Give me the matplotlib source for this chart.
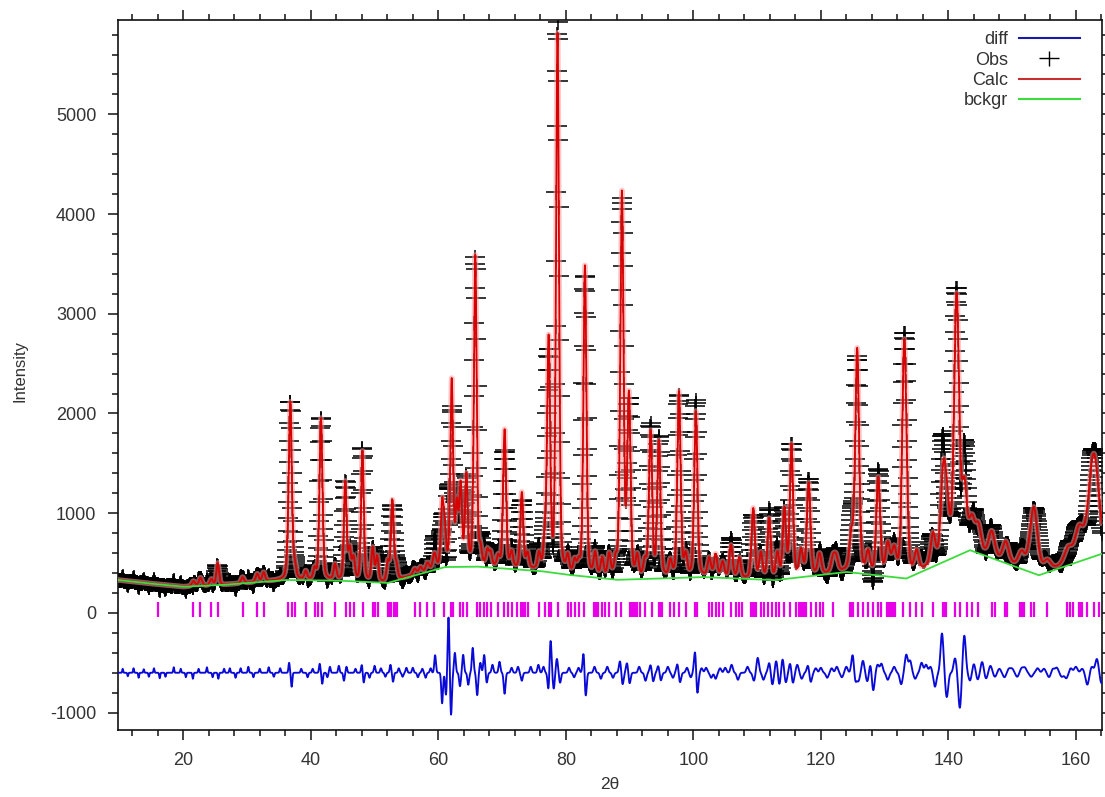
import numpy as np
import matplotlib
matplotlib.use("Agg")
import matplotlib.pyplot as plt
from matplotlib.path import Path
from matplotlib.ticker import MultipleLocator
from matplotlib.lines import Line2D

plt.rcParams['font.family'] = ['Liberation Sans', 'DejaVu Sans']
plt.rcParams['axes.unicode_minus'] = False

# ---------------- data ----------------
scan_start, scan_stop, scan_step = 9.8, 164.2, 0.05

# background knots (2theta, counts)
bkg_2theta = [9.8, 14.0, 20.0, 26.0, 36.0, 44.0, 52.0, 56.0, 61.0, 66.0, 76.0, 80.0,
              88.0, 95.0, 101.4, 112.7, 124.0, 133.4, 143.4, 154.2, 164.4]
bkg_counts = [330, 300, 262, 280, 330, 325, 300, 370, 460, 465, 420, 385,
              332, 345, 360, 328, 411, 345, 629, 378, 600]

# Bragg peaks of the calculated pattern: position, height above background, FWHM
peak_pos = [21.6, 22.7, 24.4, 25.4, 29.3, 31.6, 32.6,
            36.4, 36.8, 37.5, 39.2, 40.6, 41.6, 43.8,
            45.4, 46.1, 46.7, 48.1, 49.7, 50.4, 52.1, 52.8, 53.4,
            56.3, 57.2, 58.3, 59.4,
            60.6, 61.0, 62.1, 62.9, 63.5, 64.4,
            65.8, 66.6, 67.7, 68.2, 69.4,
            70.4, 71.5, 73.1, 74.0, 75.8, 76.7,
            77.3, 78.7, 80.3, 81.4, 82.0,
            83.0, 84.6, 85.7, 86.8, 87.8,
            88.8, 89.9, 91.2, 92.4, 93.3, 94.6,
            96.4, 97.75, 98.8, 100.4,
            102.5, 103.5, 104.6, 105.9, 107.2,
            109.4, 110.6, 111.9, 113.2, 114.3, 115.4,
            116.9, 118.1, 119.8, 121.9, 122.4,
            124.8, 125.7, 127.4, 129.0, 130.5, 131.5,
            133.1, 135.0, 137.6, 139.2, 139.8, 141.3,
            142.5, 143.7, 144.7, 146.8, 149.0, 151.5,
            153.4, 155.5, 158.8, 160.5, 162.8]
peak_height = [50, 80, 60, 220, 60, 80, 90,
               150, 1750, 120, 80, 100, 1620, 150,
               980, 300, 220, 1300, 330, 250, 200, 800, 150,
               60, 60, 80, 150,
               600, 350, 1850, 580, 780, 880,
               3100, 150, 150, 130, 100,
               1380, 150, 760, 150, 150, 250,
               2300, 5380, 150, 120, 100,
               3100, 220, 180, 220, 150,
               3850, 1800, 200, 150, 1450, 1350,
               150, 1850, 200, 1650,
               180, 220, 150, 320, 200,
               700, 250, 600, 250, 680, 1320,
               250, 920, 200, 140, 140,
               340, 2230, 200, 960, 300, 250,
               2380, 200, 300, 820, 450, 2580,
               620, 280, 250, 250, 200, 150,
               650, 100, 150, 300, 1020]
peak_fwhm = [0.6, 0.6, 0.55, 0.5, 0.55, 0.55, 0.55,
             0.5, 0.55, 0.5, 0.5, 0.5, 0.55, 0.5,
             0.5, 0.5, 0.5, 0.5, 0.5, 0.5, 0.5, 0.5, 0.5,
             0.6, 0.6, 0.6, 0.6,
             0.5, 0.5, 0.5, 0.5, 0.5, 0.5,
             0.5, 0.5, 0.5, 0.5, 0.5,
             0.55, 0.5, 0.55, 0.5, 0.5, 0.5,
             0.55, 0.55, 0.5, 0.5, 0.5,
             0.55, 0.55, 0.55, 0.55, 0.55,
             0.6, 0.6, 0.55, 0.55, 0.6, 0.6,
             0.55, 0.6, 0.55, 0.6,
             0.6, 0.6, 0.6, 0.6, 0.6,
             0.6, 0.6, 0.6, 0.6, 0.6, 0.6,
             0.65, 0.65, 0.65, 0.7, 0.7,
             0.7, 0.7, 0.7, 0.7, 0.8, 0.8,
             0.8, 0.8, 0.85, 0.9, 0.9, 0.9,
             0.9, 1.0, 1.0, 1.1, 1.1, 1.2,
             1.4, 1.3, 1.4, 1.5, 1.9]

# misfit features (Obs - Calc): position, signed size
resid_pos = [10.5, 11.3, 12.2, 13.0, 13.8, 14.6, 15.4, 16.3, 17.2, 18.5, 19.6, 20.4,
             21.5, 22.4, 23.7, 24.6, 25.5, 26.4, 27.3, 28.2, 29.0, 30.2, 31.0, 32.0,
             33.4, 34.2, 35.2,
             36.6, 37.0, 38.5, 39.5, 40.3, 41.4, 41.8, 42.6, 43.0, 44.4, 45.2, 45.6,
             47.0, 48.0, 48.3, 49.2, 50.0, 51.0, 51.7,
             52.5, 52.9, 53.8, 54.4, 55.0, 56.0, 56.8, 57.5, 58.0, 58.8,
             59.5, 60.6, 61.2, 61.6, 62.0, 62.6, 63.4,
             63.9, 64.7, 65.4, 66.1, 66.6, 67.2, 67.6, 68.5, 69.6, 70.4, 71.5,
             72.5, 73.1, 74.5, 75.7, 76.5, 77.3, 77.6, 78.1, 78.6, 79.1, 80.5,
             81.3, 82.0, 82.8, 83.1, 84.5, 85.5, 86.5, 87.4, 88.5, 88.9, 89.6, 90.0, 91.5,
             92.5, 93.3, 93.7, 94.5, 94.9, 96.0, 96.8, 97.5, 97.9, 99.0, 99.6, 100.3, 100.6,
             101.3, 102.0, 102.8, 103.5, 104.2, 105.0, 106.0, 107.0, 108.5, 109.5, 110.1, 111.0,
             111.9, 112.4, 113.0, 113.5, 114.0, 114.5, 115.2, 115.6, 116.3,
             117.0, 118.0, 118.4, 119.2, 120.0, 121.0, 121.7, 122.5, 123.3, 124.0, 125.0, 125.4,
             125.9, 126.6, 127.3, 127.8, 128.2, 128.9, 129.5, 130.5, 131.5,
             132.6, 133.4, 134.0, 134.8, 135.8, 136.5, 137.2, 137.9, 139.0,
             139.75, 141.05, 141.8, 142.5, 143.4, 144.0, 144.6, 145.3, 145.9,
             146.6, 147.3, 148.0, 148.8, 149.5, 150.0, 150.8, 151.5, 152.0, 153.0, 154.0,
             155.0, 155.8, 156.4, 157.0, 157.8, 158.5, 159.2, 160.0, 161.0,
             161.8, 162.5, 163.3, 164.0]
resid_amp = [40, -35, 45, -50, 35, -40, 45, -55, -40, 55, 40, -45,
             -60, 40, 55, -45, -60, 40, 45, -50, 45, 60, -45, 40,
             55, -40, 45,
             100, -140, 40, -45, 40, 90, -110, -45, 60, 70, -80, 60,
             40, 80, -100, -50, 70, 45, -40,
             80, -90, 45, -40, 50, 50, -45, 40, -50, 45,
             176, -306, -225, 560, -426, 200, -135,
             180, -120, 250, -225, 100, 180, -100, 80, 110, -210, 50,
             60, -80, 60, 80, 60, -190, 345, -160, 140, -100, 50,
             -45, 50, 220, -258, 60, -60, 60, -50, 120, -120, 100, -110, 60,
             -80, 80, -90, 70, -80, 60, -50, 90, -100, 50, -45, 250, -246,
             45, 50, -50, -60, 45, 50, 80, -70, 60, -80, 150, -70,
             100, -120, 120, -120, 140, -100, 100, -110, 80,
             -60, 80, -100, 45, 50, -50, 45, 60, -45, 60, 190, -100,
             -80, 120, -90, 100, -190, 80, 90, -70, 60,
             -115, 180, 120, -60, 100, 80, 60, -140, 395,
             -245, 145, -355, 375, -80, 90, -70, 110, -60,
             70, -40, 40, -45, 40, 40, -40, 45, 50, -40, 45,
             40, -45, 40, 50, -40, -55, 45, 60, 40,
             -120, 60, 140, -105]

# reflection tick positions
reflection_pos = [16.1, 21.6, 22.7, 24.4, 25.4, 29.3, 31.6, 32.6, 36.4, 37.0, 37.5,
                  39.2, 40.6, 41.1, 41.7, 43.8, 45.5, 46.1, 46.7, 48.2, 49.7, 49.9,
                  50.0, 50.5, 52.1, 52.3, 52.6, 53.1, 53.3, 53.5,
                  56.3, 57.2, 58.3, 59.4, 60.9, 62.0, 62.3, 63.35, 63.9, 64.5,
                  66.0, 66.6, 67.1, 67.7, 68.2, 69.4, 70.3, 70.9, 71.5, 72.3,
                  73.0, 73.2, 73.4, 73.6, 74.0, 75.8, 76.7, 77.3, 77.7, 78.7,
                  80.3, 80.8, 81.4, 82.0, 82.8, 84.4, 84.6, 84.9, 85.1, 85.7,
                  86.2, 86.8, 87.8, 88.6, 90.1, 90.3, 90.6, 90.8, 91.2, 91.7,
                  92.4, 93.5, 94.6, 94.8, 95.1, 96.4, 96.95, 97.7, 98.8, 100.3,
                  100.45, 100.6, 102.5, 103.0, 103.5, 104.0, 104.6, 105.9, 106.7,
                  107.2, 107.7, 109.0, 109.2, 109.4, 109.6, 109.8, 110.6, 111.1,
                  111.65, 112.3, 112.9, 113.5, 114.3, 115.1, 116.1, 116.6, 116.9,
                  117.2, 117.5, 117.7, 118.5, 119.3, 119.8, 120.3, 121.9, 124.5,
                  124.75, 125.0, 125.8, 126.6, 127.4, 128.2, 129.0, 129.5, 130.3,
                  130.55, 130.8, 131.1, 131.35, 131.6, 132.9, 133.96, 135.0, 135.8,
                  137.6, 139.2, 139.45, 139.7, 141.05, 141.8, 142.9, 143.7, 144.7,
                  146.8, 147.3, 148.9, 149.2, 151.3, 151.55, 151.8, 152.9, 153.4,
                  155.5, 158.6, 159.1, 159.6, 160.5, 160.75, 161.0, 161.8, 162.8,
                  163.6]

diff_offset = -600

# ---------------- build the profiles ----------------
tth = np.arange(scan_start, scan_stop, scan_step)
bkg = np.interp(tth, bkg_2theta, bkg_counts)


def pseudo_voigt(x, x0, fwhm, eta=0.3):
    s = fwhm / 2.3548
    g = np.exp(-0.5 * ((x - x0) / s) ** 2)
    lor = 1.0 / (1.0 + ((x - x0) / (fwhm / 2)) ** 2)
    return eta * lor + (1 - eta) * g


calc = bkg.copy()
for p, h, w in zip(peak_pos, peak_height, peak_fwhm):
    calc += h * pseudo_voigt(tth, p, w)

resid = np.zeros_like(tth)
for p, a in zip(resid_pos, resid_amp):
    s = 0.07 + 0.0012 * (p - 10)
    resid += a * np.exp(-0.5 * ((tth - p) / s) ** 2)

obs = calc + resid
diff = obs - calc + diff_offset

# ---------------- figure ----------------
fig = plt.figure(figsize=(11.05, 7.97), dpi=100)
ax = fig.add_axes([118 / 1105, 1 - 730 / 797, (1102 - 118) / 1105, (730 - 20) / 797])

plus = Path([(-1, 0), (1, 0), (0, -0.75), (0, 0.75)],
            [Path.MOVETO, Path.LINETO, Path.MOVETO, Path.LINETO])

blue = '#0a0ad8'
red = '#d80000'
green = '#3ddc3d'
mag = '#e800e8'

ax.plot(tth, diff, color=blue, lw=1.35, zorder=3)
ax.plot(tth, obs, ls='none', marker=plus, ms=14.4, mew=1.1, color='k', zorder=2)
ax.plot(tth, calc, color='#ff9c9c', lw=4.0, alpha=0.55, zorder=4)
ax.plot(tth, calc, color=red, lw=1.3, zorder=5)
ax.plot(tth, bkg, color=green, lw=1.3, zorder=6)
ax.vlines(reflection_pos, -40, 110, color=mag, lw=1.6, zorder=3)

ax.set_xlim(9.76, 164.1)
ax.set_ylim(-1174, 5946)
ax.xaxis.set_major_locator(MultipleLocator(20))
ax.xaxis.set_minor_locator(MultipleLocator(4))
ax.yaxis.set_major_locator(MultipleLocator(1000))
ax.yaxis.set_minor_locator(MultipleLocator(200))
ax.tick_params(which='both', direction='out', top=True, right=True,
               labeltop=False, labelright=False, width=1.1, colors='#111111',
               labelcolor='#333333', labelsize=13, pad=8)
ax.tick_params(which='major', length=7.5)
ax.tick_params(which='minor', length=4.5)
for sp in ax.spines.values():
    sp.set_linewidth(1.2)
    sp.set_color('#111111')

ax.set_xlabel('2θ', fontsize=12.5, color='#333333')
ax.xaxis.set_label_coords(0.5, -0.066)
ax.set_ylabel('Intensity', fontsize=12, color='#333333')
ax.yaxis.set_label_coords(-0.092, 0.505)

handles = [Line2D([], [], color='#1a1aa8', lw=1.5),
           Line2D([], [], ls='none', marker=plus, ms=14.4, mew=1.0, color='k'),
           Line2D([], [], color='#c83030', lw=1.5),
           Line2D([], [], color=green, lw=1.5)]
leg = ax.legend(handles, ['diff', 'Obs', 'Calc', 'bckgr'], loc='upper right',
                bbox_to_anchor=(0.9776, 0.984), bbox_transform=ax.transAxes,
                frameon=False, markerfirst=False, fontsize=13, handlelength=3.4,
                handletextpad=0.6, labelspacing=0.18, borderpad=0.0,
                borderaxespad=0.0, numpoints=1)
for t in leg.get_texts():
    t.set_color('#333333')

fig.savefig('out.png', dpi=100)
